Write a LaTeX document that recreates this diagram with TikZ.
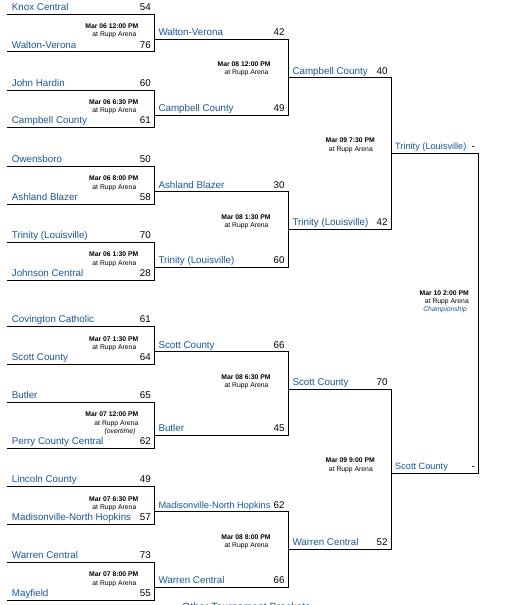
\documentclass[tikz,border=0pt]{standalone}
\usepackage{fontspec}
\setmainfont{Liberation Sans}
\definecolor{teamblue}{RGB}{26,87,150}
\newcommand\bkt[5]{%
  \coordinate (#1-tl) at (#2,#4);
  \coordinate (#1-tr) at (#3,#4);
  \coordinate (#1-br) at (#3,#5);
  \coordinate (#1-bl) at (#2,#5);
  \draw[bline] (#1-tl) -- (#1-tr) -- (#1-br) -- (#1-bl);
}
\newcommand\when[1]{\textbf{#1}}
\begin{document}
\begin{tikzpicture}[x=1pt,y=-1pt,
  bline/.style={line width=1pt, black},
  team/.style={anchor=base west, inner sep=0pt, text=teamblue, font=\fontsize{9.8}{11}\selectfont},
  score/.style={anchor=base east, inner sep=0pt, font=\fontsize{9.8}{11}\selectfont},
  info/.style={anchor=north east, inner sep=0pt, align=right, font=\fontsize{6.8}{8.3}\selectfont},
]
\clip (0,0) rectangle (523,605);
\fill[white] (0,0) rectangle (523,605);

% ---------- Round 1 ----------
\bkt{g1}{7.3}{154.3}{14.3}{51.7}
\bkt{g2}{7.3}{154.3}{90}{127.3}
\bkt{g3}{7.3}{154.3}{166}{204}
\bkt{g4}{7.3}{154.3}{242}{280}
\bkt{g5}{7.3}{154.3}{326}{364}
\bkt{g6}{7.3}{154.3}{402}{448.3}
\bkt{g7}{7.3}{154.3}{486}{524}
\bkt{g8}{7.3}{154.3}{562}{600}
% ---------- Round 2 ----------
\bkt{r2a}{154.3}{288.3}{39.3}{115}
\bkt{r2b}{154.3}{288.3}{191.7}{267.3}
\bkt{r2c}{154.3}{288.3}{351.7}{435}
\bkt{r2d}{154.3}{288.3}{511.7}{587.3}
% ---------- Semifinals ----------
\bkt{r3a}{288.3}{391.3}{77.7}{229.3}
\bkt{r3b}{288.3}{391.3}{389.3}{549.3}
% ---------- Final ----------
\bkt{fin}{391.3}{478.7}{153.3}{473.3}

% ---------- Round 1 texts ----------
\node[team] (g1t) at (11.7,10.8) {Knox Central};
\node[score] (g1ts) at (151,10.8) {54};
\node[team] (g1b) at (11.7,48.2) {Walton-Verona};
\node[score] (g1bs) at (151,48.2) {76};
\node[info] (g1i) at (138.5,23.5) {\when{Mar 06 12:00 PM}\\at Rupp Arena\hspace*{2pt}};

\node[team] (g2t) at (11.7,86.5) {John Hardin};
\node[score] (g2ts) at (151,86.5) {60};
\node[team] (g2b) at (11.7,123.8) {Campbell County};
\node[score] (g2bs) at (151,123.8) {61};
\node[info] (g2i) at (138.5,99.2) {\when{Mar 06 6:30 PM}\\at Rupp Arena\hspace*{2pt}};

\node[team] (g3t) at (11.7,162.5) {Owensboro};
\node[score] (g3ts) at (151,162.5) {50};
\node[team] (g3b) at (11.7,200.5) {Ashland Blazer};
\node[score] (g3bs) at (151,200.5) {58};
\node[info] (g3i) at (138.5,175.8) {\when{Mar 06 8:00 PM}\\at Rupp Arena\hspace*{2pt}};

\node[team] (g4t) at (11.7,238.5) {Trinity (Louisville)};
\node[score] (g4ts) at (151,238.5) {70};
\node[team] (g4b) at (11.7,276.5) {Johnson Central};
\node[score] (g4bs) at (151,276.5) {28};
\node[info] (g4i) at (138.5,251.8) {\when{Mar 06 1:30 PM}\\at Rupp Arena\hspace*{2pt}};

\node[team] (g5t) at (11.7,322.5) {Covington Catholic};
\node[score] (g5ts) at (151,322.5) {61};
\node[team] (g5b) at (11.7,360.5) {Scott County};
\node[score] (g5bs) at (151,360.5) {64};
\node[info] (g5i) at (138.5,336.5) {\when{Mar 07 1:30 PM}\\at Rupp Arena\hspace*{2pt}};

\node[team] (g6t) at (11.7,398.5) {Butler};
\node[score] (g6ts) at (151,398.5) {65};
\node[team] (g6b) at (11.7,444.8) {Perry County Central};
\node[score] (g6bs) at (151,444.8) {62};
\node[info] (g6i) at (138.5,411.8) {\when{Mar 07 12:00 PM}\\at Rupp Arena\hspace*{2pt}\\\textit{(overtime)}\hspace*{3pt}};

\node[team] (g7t) at (11.7,482.5) {Lincoln County};
\node[score] (g7ts) at (151,482.5) {49};
\node[team] (g7b) at (11.7,520.5) {Madisonville-North Hopkins};
\node[score] (g7bs) at (151,520.5) {57};
\node[info] (g7i) at (138.5,496.5) {\when{Mar 07 6:30 PM}\\at Rupp Arena\hspace*{2pt}};

\node[team] (g8t) at (11.7,558.5) {Warren Central};
\node[score] (g8ts) at (151,558.5) {73};
\node[team] (g8b) at (11.7,596.5) {Mayfield};
\node[score] (g8bs) at (151,596.5) {55};
\node[info] (g8i) at (138.5,571.8) {\when{Mar 07 8:00 PM}\\at Rupp Arena\hspace*{2pt}};

% ---------- Round 2 texts ----------
\node[team] (r2at) at (158.3,35.8) {Walton-Verona};
\node[score] (r2ats) at (284.7,35.8) {42};
\node[team] (r2ab) at (158.3,111.5) {Campbell County};
\node[score] (r2abs) at (284.7,111.5) {49};
\node[info] (r2ai) at (270.7,61.5) {\when{Mar 08 12:00 PM}\\at Rupp Arena\hspace*{2pt}};

\node[team] (r2bt) at (158.3,188.2) {Ashland Blazer};
\node[score] (r2bts) at (284.7,188.2) {30};
\node[team] (r2bb) at (158.3,263.8) {Trinity (Louisville)};
\node[score] (r2bbs) at (284.7,263.8) {60};
\node[info] (r2bi) at (270.7,214.2) {\when{Mar 08 1:30 PM}\\at Rupp Arena\hspace*{2pt}};

\node[team] (r2ct) at (158.3,348.2) {Scott County};
\node[score] (r2cts) at (284.7,348.2) {66};
\node[team] (r2cb) at (158.3,431.5) {Butler};
\node[score] (r2cbs) at (284.7,431.5) {45};
\node[info] (r2ci) at (270.7,374.2) {\when{Mar 08 6:30 PM}\\at Rupp Arena\hspace*{2pt}};

\node[team, font=\fontsize{9.2}{11}\selectfont] (r2dt) at (158.3,508.2) {Madisonville-North Hopkins};
\node[score] (r2dts) at (284.7,508.2) {62};
\node[team] (r2db) at (158.3,583.8) {Warren Central};
\node[score] (r2dbs) at (284.7,583.8) {66};
\node[info] (r2di) at (270.7,534.2) {\when{Mar 08 8:00 PM}\\at Rupp Arena\hspace*{2pt}};

% ---------- Semifinal texts ----------
\node[team] (r3at) at (292.3,74.2) {Campbell County};
\node[score] (r3ats) at (387.7,74.2) {40};
\node[team] (r3ab) at (292.3,225.8) {Trinity (Louisville)};
\node[score] (r3abs) at (387.7,225.8) {42};
\node[info] (r3ai) at (375,137.8) {\when{Mar 09 7:30 PM}\\at Rupp Arena\hspace*{2pt}};

\node[team] (r3bt) at (292.3,385.8) {Scott County};
\node[score] (r3bts) at (387.7,385.8) {70};
\node[team] (r3bb) at (292.3,545.8) {Warren Central};
\node[score] (r3bbs) at (387.7,545.8) {52};
\node[info] (r3bi) at (375,457.8) {\when{Mar 09 9:00 PM}\\at Rupp Arena\hspace*{2pt}};

% ---------- Final texts ----------
\node[team, font=\fontsize{9.2}{11}\selectfont] (fint) at (395,149.8) {Trinity (Louisville)};
\node[score] (fints) at (475,149.8) {-};
\node[team, font=\fontsize{9.2}{11}\selectfont] (finb) at (395,469.8) {Scott County};
\node[score] (finbs) at (475,469.8) {-};
\node[info] (fini) at (469,290.2) {\when{Mar 10 2:00 PM}\\at Rupp Arena\hspace*{1pt}\\\textcolor{teamblue}{\textit{Championship}}\hspace*{2pt}};

% ---------- partially visible footer ----------
\node[anchor=base west, inner sep=0pt, text=teamblue, font=\fontsize{10.5}{12}\selectfont] (footer) at (182,610) {Other Tournament Brackets};
\end{tikzpicture}
\end{document}
